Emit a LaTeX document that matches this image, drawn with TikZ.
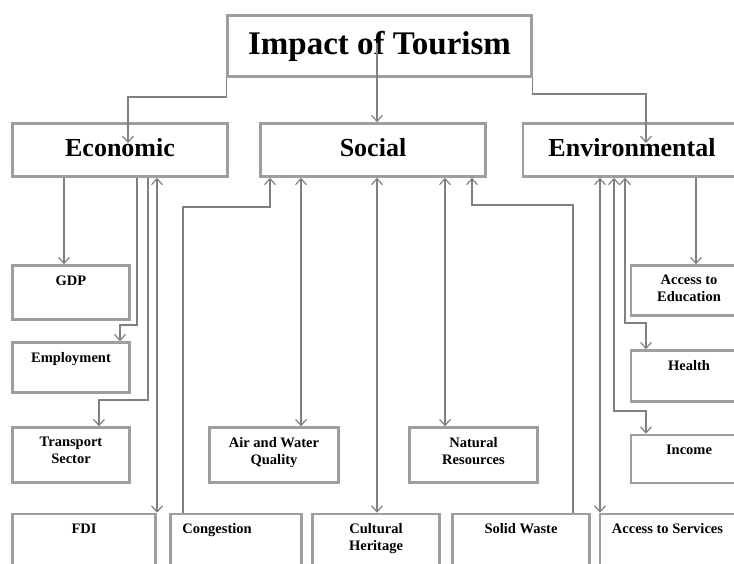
\documentclass[tikz,border=0pt]{standalone}
\usepackage{fontspec}
\setmainfont{Liberation Serif}
\usetikzlibrary{arrows.meta}

\begin{document}
\begin{tikzpicture}[x=1pt, y=-1pt,
    >={Straight Barb[length=6pt,width=11pt]},
    box/.style={draw=black!38, line width=2.6pt, inner sep=0pt},
    head/.style={box, minimum height=53pt, font=\fontsize{26}{30}\selectfont\bfseries},
    leaf/.style={box, minimum width=117pt, minimum height=55pt},
    txt/.style={anchor=north, inner sep=0pt, yshift=-11pt, align=center,
      font=\fontsize{14.5}{17}\selectfont\bfseries},
    lefttxt/.style={txt, anchor=north west, xshift=13pt},
    link/.style={draw=black!50, line width=1.2pt}
  ]
  \path[use as bounding box] (0,0) rectangle (734,563);
  \clip (0,0) rectangle (734,563);

  % top and the three groups
  \node[box, minimum width=304pt, minimum height=61pt,
    font=\fontsize{33}{38}\selectfont\bfseries] (title) at (379.5,46) {\raisebox{3pt}{Impact of Tourism}};
  \node[head, minimum width=215pt] (eco) at (120,150) {\raisebox{4.5pt}{Economic}};
  \node[head, minimum width=225pt] (soc) at (373,150) {\raisebox{4.5pt}{Social}};
  \node[head, minimum width=218pt] (env) at (632,150) {\raisebox{4.5pt}{Environmental}};

  % economic
  \node[leaf, minimum height=54pt] (gdp) at (71,292.5) [label={[txt]north:GDP}] {};
  \node[leaf, minimum height=50pt] (emp) at (71,367.5) [label={[txt]north:Employment}] {};
  \node[leaf] (trans) at (71,455) [label={[txt]north:Transport\\Sector}] {};
  \node[leaf, minimum width=143pt, minimum height=66pt] (fdi) at (84,547) [label={[txt]north:FDI}] {};

  % social
  \node[leaf, minimum width=131pt, minimum height=66pt] (cong) at (236,547) [label={[lefttxt]north west:Congestion}] {};
  \node[leaf, minimum width=129pt] (air) at (274,455) [label={[txt]north:Air and Water\\Quality}] {};
  \node[leaf, minimum width=127pt, minimum height=66pt] (cult) at (376,547) [label={[txt]north:Cultural\\Heritage}] {};
  \node[leaf, minimum width=128pt] (nat) at (473.5,455) [label={[txt]north:Natural\\Resources}] {};
  \node[leaf, minimum width=137pt, minimum height=66pt] (solid) at (521,547) [label={[txt]north:Solid Waste}] {};

  % environmental
  \node[leaf, minimum width=160pt, minimum height=66pt] (serv) at (680,547) [label={[lefttxt]north west:Access to Services}] {};
  \node[leaf, minimum width=116pt, minimum height=50pt] (edu) at (689,290.5) [label={[txt]north:Access to\\Education}] {};
  \node[leaf, minimum width=116pt, minimum height=51pt] (health) at (689,376) [label={[txt]north:Health}] {};
  \node[leaf, minimum width=116pt, minimum height=48pt] (income) at (689,459) [label={[txt]north:Income}] {};

  \coordinate (titlein) at (377,43);
  \coordinate (ecoin) at (128,143);
  \coordinate (envin) at (646,143);

  \draw[link,->] (title.south west) |- (128,97) -- (ecoin);
  \draw[link,->] (titlein) -- (titlein |- soc.north);
  \draw[link,->] (title.south east) |- (646,94) -- (envin);

  \draw[link,->] (64,0 |- eco.south) -- (64,0 |- gdp.north);
  \draw[link,->] (137,0 |- eco.south) |- (120,325) -- (120,0 |- emp.north);
  \draw[link,->] (148,0 |- eco.south) |- (99,400) -- (99,0 |- trans.north);
  \draw[link,<->] (157,0 |- eco.south) -- (157,0 |- fdi.north);

  \draw[link,->] (183,0 |- cong.north) |- (270,207) -- (270,0 |- soc.south);
  \draw[link,<->] (301,0 |- soc.south) -- (301,0 |- air.north);
  \draw[link,<->] (377,0 |- soc.south) -- (377,0 |- cult.north);
  \draw[link,<->] (445,0 |- soc.south) -- (445,0 |- nat.north);
  \draw[link,->] (573,0 |- solid.north) |- (472,205) -- (472,0 |- soc.south);

  \draw[link,<->] (600,0 |- env.south) -- (600,0 |- serv.north);
  \draw[link,<->] (614,0 |- env.south) |- (646,411) -- (646,0 |- income.north);
  \draw[link,<->] (625,0 |- env.south) |- (646,323) -- (646,0 |- health.north);
  \draw[link,->] (696,0 |- env.south) -- (696,0 |- edu.north);
\end{tikzpicture}
\end{document}
